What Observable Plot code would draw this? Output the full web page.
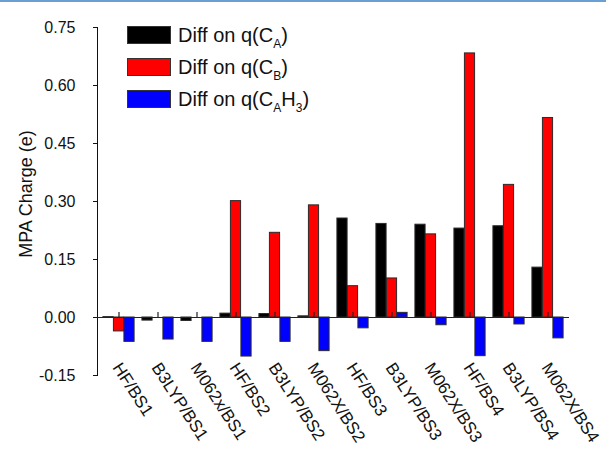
<!DOCTYPE html>
<html>
<head>
<meta charset="utf-8">
<script src="https://cdn.jsdelivr.net/npm/d3@7"></script>
<script src="https://cdn.jsdelivr.net/npm/@observablehq/plot@0.6"></script>
<style>
  html, body { margin: 0; padding: 0; background: white; }
  #wrap { position: relative; width: 606px; height: 451px; overflow: hidden; font-family: "Liberation Sans", Arial, sans-serif; }
  #topline { position: absolute; left: 0; top: 0; width: 606px; height: 2px; background: #6a9fd4; }
  #legend { position: absolute; left: 127px; top: 19px; }
  .row { display: flex; align-items: center; height: 32.2px; font-size: 20px; color: #111; }
  .sw { width: 44px; height: 18px; border: 1px solid #333; margin-right: 7px; box-sizing: border-box; }
  .row sub { font-size: 12px; vertical-align: -6px; line-height: 0; }
  #ylabel { position: absolute; left: 26px; top: 194px; transform: translate(-50%, -50%) rotate(-90deg);
            font-size: 18px; white-space: nowrap; color: #111; }
</style>
</head>
<body>
<div id="wrap">
  <div id="chart"></div>
  <div id="topline"></div>
  <div id="legend"></div>
  <div id="ylabel"></div>
</div>
<script>
const methods = ["HF/BS1","B3LYP/BS1","M062x/BS1","HF/BS2","B3LYP/BS2","M062X/BS2","HF/BS3","B3LYP/BS3","M062X/BS3","HF/BS4","B3LYP/BS4","M062X/BS4"];
const diffCA   = [0.001, -0.008, -0.009, 0.010, 0.009, 0.003, 0.256, 0.242, 0.240, 0.230, 0.236, 0.129];
const diffCB   = [-0.036, 0.000, 0.000, 0.301, 0.219, 0.290, 0.081, 0.101, 0.215, 0.683, 0.343, 0.516];
const diffCAH3 = [-0.063, -0.057, -0.063, -0.101, -0.063, -0.087, -0.028, 0.012, -0.020, -0.100, -0.018, -0.054];
const seriesNames = ["Diff on q(C<sub>A</sub>)", "Diff on q(C<sub>B</sub>)", "Diff on q(C<sub>A</sub>H<sub>3</sub>)"];
const seriesColors = ["#000000", "#ff0000", "#0000ff"];
const yTicks = [-0.15, 0.00, 0.15, 0.30, 0.45, 0.60, 0.75];
const yLabel = "MPA Charge (e)";

const W = 606, H = 451;
const mL = 97, mR = 37, mT = 27, mB = 76;
const bw = (W - mL - mR) / methods.length;
const barW = bw * 0.267;

const seriesValues = [diffCA, diffCB, diffCAH3];
const rows = seriesValues.map(vals => methods.map((m, i) => ({method: m, value: vals[i]})));
const insets = [
  [bw/2 - 1.5*barW, bw/2 + 0.5*barW],
  [bw/2 - 0.5*barW, bw/2 - 0.5*barW],
  [bw/2 + 0.5*barW, bw/2 - 1.5*barW]
];

const chart = Plot.plot({
  width: W, height: H,
  marginLeft: mL, marginRight: mR, marginTop: mT, marginBottom: mB,
  style: {fontFamily: "Liberation Sans, Arial, sans-serif", fontSize: "16px", color: "#111", background: "white"},
  x: {domain: methods, padding: 0, axis: null},
  y: {domain: [-0.15, 0.75], ticks: yTicks, tickFormat: d => d.toFixed(2), tickSize: 4, tickPadding: 18,
      line: true, label: null},
  marks: [
    ...rows.map((data, s) => Plot.barY(data, {
      x: "method", y: "value", fill: seriesColors[s], stroke: "#2a2a2a", strokeWidth: 1,
      insetLeft: insets[s][0], insetRight: insets[s][1]
    })),
    Plot.ruleY([0], {stroke: "#222", strokeWidth: 1.2}),
    Plot.ruleX(methods, {x: d => d, y1: 0, y2: 0, insetTop: -5, stroke: "#222", strokeWidth: 1.2}),
    Plot.text(methods, {x: d => d, frameAnchor: "bottom", text: d => d, rotate: 57, textAnchor: "start",
      dx: -7, dy: -8, fontSize: 17, fill: "#111"})
  ]
});
document.getElementById("chart").appendChild(chart);
document.getElementById("ylabel").textContent = yLabel;

const legend = document.getElementById("legend");
seriesNames.forEach((name, i) => {
  const row = document.createElement("div");
  row.className = "row";
  row.innerHTML = `<div class="sw" style="background:${seriesColors[i]}"></div><span>${name}</span>`;
  legend.appendChild(row);
});
</script>
</body>
</html>
